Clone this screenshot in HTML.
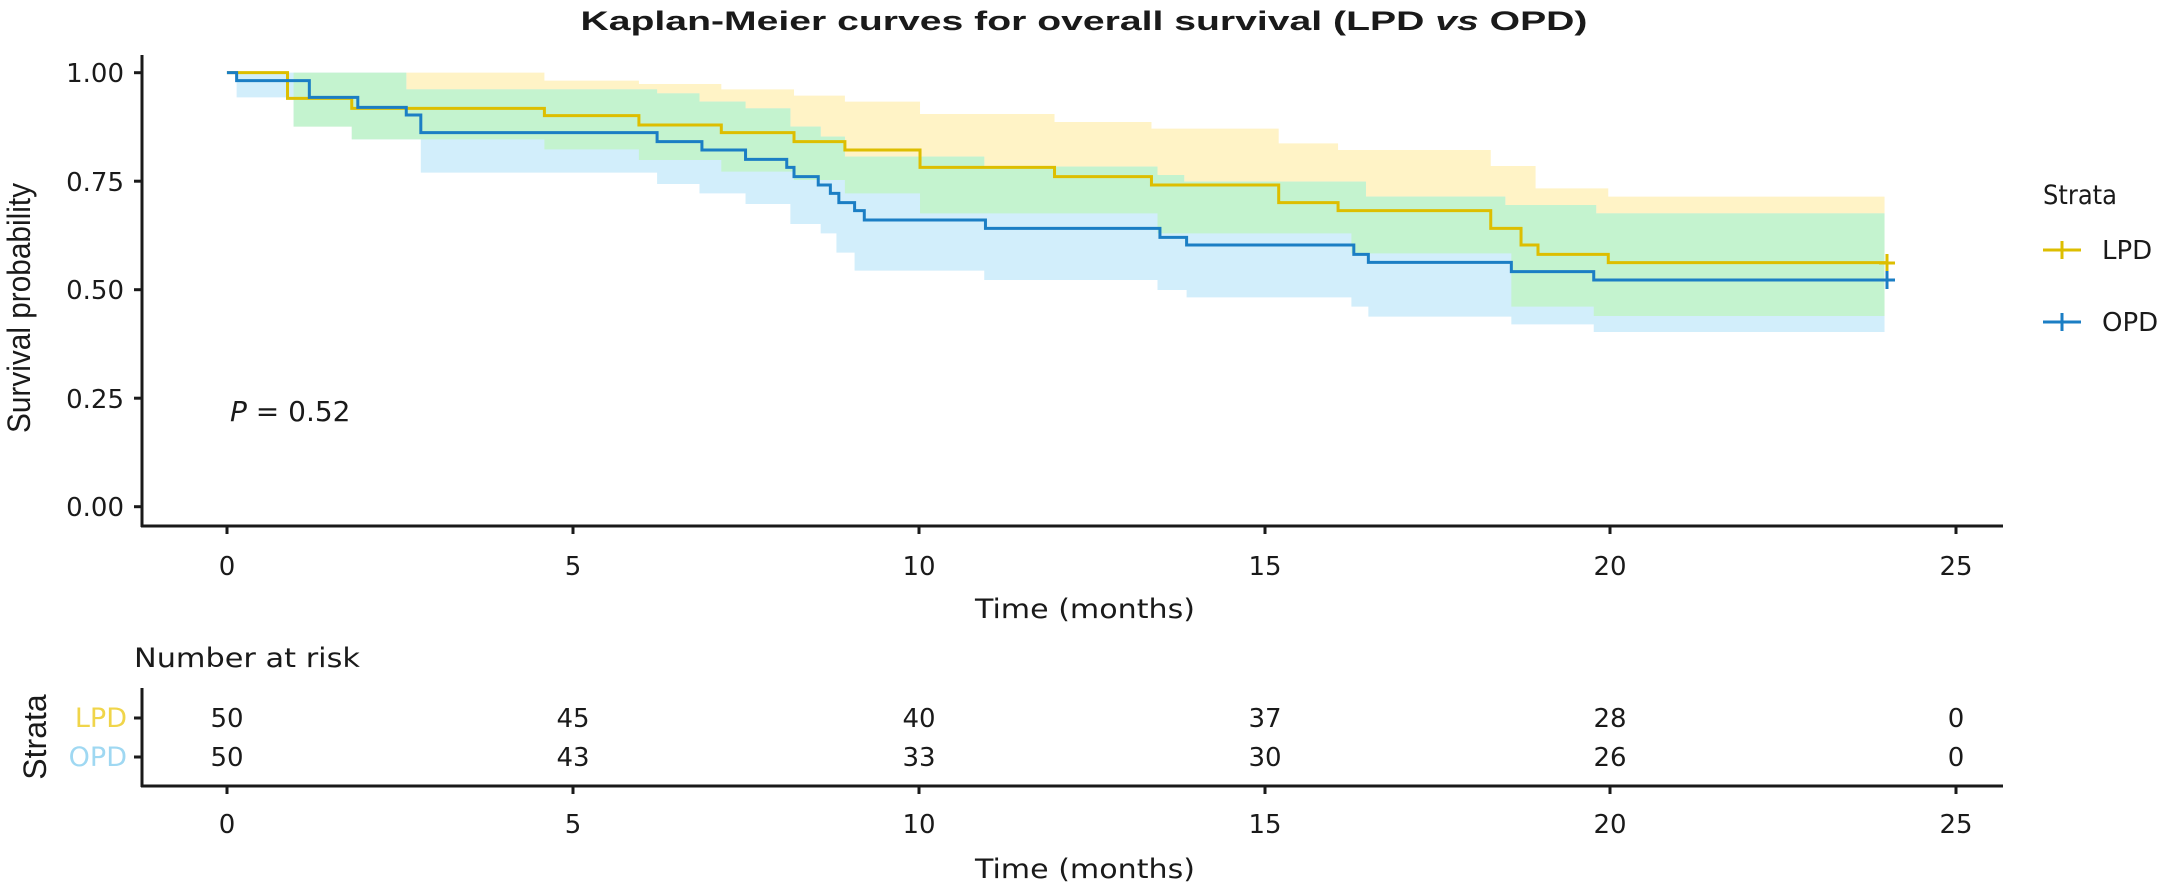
<!DOCTYPE html>
<html><head><meta charset="utf-8"><style>
html,body{margin:0;padding:0;background:#fff;}
svg{display:block;}
text{font-family:"DejaVu Sans","Liberation Sans",sans-serif;fill:#1a1a1a;}
.n{font-family:"Liberation Sans Narrow","Liberation Sans",sans-serif;}
</style></head><body>
<svg width="2168" height="890" viewBox="0 0 2168 890" xmlns="http://www.w3.org/2000/svg">
<text x="1084" y="30" text-anchor="middle" font-size="27" font-weight="bold" style="font-family:'Liberation Sans',sans-serif" textLength="1007" lengthAdjust="spacingAndGlyphs">Kaplan-Meier curves for overall survival (LPD <tspan font-style="italic">vs</tspan> OPD)</text>
<defs>
<clipPath id="cb"><path transform="translate(130,60) scale(1.2117,0.33333)" d="M88,38 H228 V88 H435 V100 H470 V125 H508 V145 H545 V200 H570 V230 H590 V290 H705 V320 H848 V345 H870 V365 H1020 V410 H1135 V435 H1210 V460 H1448 V816 H1208 V793 H1140 V770 H1022 V740 H1008 V712 H872 V690 H848 V660 H705 V632 H598 V578 H583 V520 H570 V492 H545 V432 H508 V400 H470 V372 H435 V338 H240 V238 H183 V200 H135 V112 H88 Z"/></clipPath>
</defs>
<g transform="translate(130,60) scale(1.2117,0.33333)">
<path fill="#FFF3C6" d="M80,38 H342 V62 H420 V72 H488 V88 H548 V107 H590 V125 H652 V162 H763 V186 H843 V206 H948 V250 H997 V270 H1123 V318 H1160 V385 H1220 V410 H1448 V768 H1208 V740 H1140 V580 H1008 V520 H848 V460 H652 V400 H590 V360 H548 V335 H488 V300 H420 V268 H342 V238 H183 V200 H135 V38 Z"/>
<path fill="#D2EEFB" d="M88,38 H228 V88 H435 V100 H470 V125 H508 V145 H545 V200 H570 V230 H590 V290 H705 V320 H848 V345 H870 V365 H1020 V410 H1135 V435 H1210 V460 H1448 V816 H1208 V793 H1140 V770 H1022 V740 H1008 V712 H872 V690 H848 V660 H705 V632 H598 V578 H583 V520 H570 V492 H545 V432 H508 V400 H470 V372 H435 V338 H240 V238 H183 V200 H135 V112 H88 Z"/>
</g>
<g clip-path="url(#cb)"><path transform="translate(130,60) scale(1.2117,0.33333)" fill="#C4F3CF" d="M80,38 H342 V62 H420 V72 H488 V88 H548 V107 H590 V125 H652 V162 H763 V186 H843 V206 H948 V250 H997 V270 H1123 V318 H1160 V385 H1220 V410 H1448 V768 H1208 V740 H1140 V580 H1008 V520 H848 V460 H652 V400 H590 V360 H548 V335 H488 V300 H420 V268 H342 V238 H183 V200 H135 V38 Z"/></g>
<g transform="translate(130,60) scale(1.2117,0.33333)" fill="none">
<path stroke="#DDBE00" stroke-width="3" vector-effect="non-scaling-stroke" d="M80,38 H130 V115 H183 V145 H342 V167 H420 V195 H488 V218 H548 V245 H590 V270 H652 V322 H763 V350 H843 V375 H948 V428 H997 V452 H1123 V505 H1148 V555 H1162 V583 H1220 V608 H1450"/>
<path stroke="#1B7EC4" stroke-width="3" vector-effect="non-scaling-stroke" d="M80,38 H88 V62 H148 V112 H188 V142 H228 V165 H240 V218 H435 V245 H472 V270 H508 V298 H542 V322 H548 V350 H568 V375 H578 V400 H585 V428 H598 V452 H606 V480 H706 V505 H850 V532 H872 V555 H1010 V583 H1022 V607 H1140 V635 H1208 V660 H1450"/>
</g>
<g stroke-width="3">
<line x1="1887" y1="254" x2="1887" y2="272" stroke="#DDBE00"/><line x1="1879" y1="263" x2="1895" y2="263" stroke="#DDBE00"/>
<line x1="1887" y1="271" x2="1887" y2="289" stroke="#1B7EC4"/><line x1="1879" y1="280" x2="1895" y2="280" stroke="#1B7EC4"/>
</g>
<g stroke="#1a1a1a" stroke-width="3">
<line x1="142" y1="55" x2="142" y2="527"/>
<line x1="141" y1="526" x2="2003" y2="526"/>
<line x1="134" y1="72.7" x2="142" y2="72.7"/><line x1="134" y1="181.2" x2="142" y2="181.2"/><line x1="134" y1="289.7" x2="142" y2="289.7"/><line x1="134" y1="398.2" x2="142" y2="398.2"/><line x1="134" y1="506.7" x2="142" y2="506.7"/>
<line x1="227" y1="526" x2="227" y2="534"/><line x1="573" y1="526" x2="573" y2="534"/><line x1="919" y1="526" x2="919" y2="534"/><line x1="1265" y1="526" x2="1265" y2="534"/><line x1="1610" y1="526" x2="1610" y2="534"/><line x1="1956" y1="526" x2="1956" y2="534"/>
</g>
<g font-size="26" text-anchor="end">
<text x="124" y="82">1.00</text><text x="124" y="191">0.75</text><text x="124" y="299">0.50</text><text x="124" y="408">0.25</text><text x="124" y="516">0.00</text>
</g>
<g font-size="26" text-anchor="middle">
<text x="227" y="575">0</text><text x="573" y="575">5</text><text x="919" y="575">10</text><text x="1265" y="575">15</text><text x="1610" y="575">20</text><text x="1956" y="575">25</text>
</g>
<text x="1085" y="618" font-size="27" text-anchor="middle" textLength="220" lengthAdjust="spacingAndGlyphs">Time (months)</text>
<text class="n" transform="translate(30,308) rotate(-90)" font-size="32" text-anchor="middle" textLength="250" lengthAdjust="spacingAndGlyphs">Survival probability</text>
<text x="230" y="421" font-size="28"><tspan font-style="italic">P</tspan> = 0.52</text>
<text x="2043" y="204" font-size="27" textLength="74" lengthAdjust="spacingAndGlyphs">Strata</text>
<g stroke-width="3">
<line x1="2043" y1="250" x2="2081" y2="250" stroke="#DDBE00"/><line x1="2062" y1="241" x2="2062" y2="259" stroke="#DDBE00"/>
<line x1="2043" y1="322" x2="2081" y2="322" stroke="#1B7EC4"/><line x1="2062" y1="313" x2="2062" y2="331" stroke="#1B7EC4"/>
</g>
<text x="2102" y="259" font-size="26">LPD</text>
<text x="2102" y="331" font-size="26">OPD</text>
<text x="134" y="667" font-size="27" textLength="226" lengthAdjust="spacingAndGlyphs">Number at risk</text>
<g stroke="#1a1a1a" stroke-width="3">
<line x1="142" y1="688" x2="142" y2="787"/>
<line x1="141" y1="786" x2="2003" y2="786"/>
<line x1="134" y1="718" x2="142" y2="718"/><line x1="134" y1="757" x2="142" y2="757"/>
<line x1="227" y1="786" x2="227" y2="794"/><line x1="573" y1="786" x2="573" y2="794"/><line x1="919" y1="786" x2="919" y2="794"/><line x1="1265" y1="786" x2="1265" y2="794"/><line x1="1610" y1="786" x2="1610" y2="794"/><line x1="1956" y1="786" x2="1956" y2="794"/>
</g>
<text x="127" y="727" font-size="27" text-anchor="end" style="fill:#F0D54A">LPD</text>
<text x="127" y="766" font-size="27" text-anchor="end" style="fill:#9FD8F2">OPD</text>
<text class="n" transform="translate(46,737) rotate(-90)" font-size="32" text-anchor="middle">Strata</text>
<g font-size="26" text-anchor="middle">
<text x="227" y="727">50</text><text x="573" y="727">45</text><text x="919" y="727">40</text><text x="1265" y="727">37</text><text x="1610" y="727">28</text><text x="1956" y="727">0</text>
<text x="227" y="766">50</text><text x="573" y="766">43</text><text x="919" y="766">33</text><text x="1265" y="766">30</text><text x="1610" y="766">26</text><text x="1956" y="766">0</text>
<text x="227" y="833">0</text><text x="573" y="833">5</text><text x="919" y="833">10</text><text x="1265" y="833">15</text><text x="1610" y="833">20</text><text x="1956" y="833">25</text>
</g>
<text x="1085" y="878" font-size="27" text-anchor="middle" textLength="220" lengthAdjust="spacingAndGlyphs">Time (months)</text>
</svg>
</body></html>
